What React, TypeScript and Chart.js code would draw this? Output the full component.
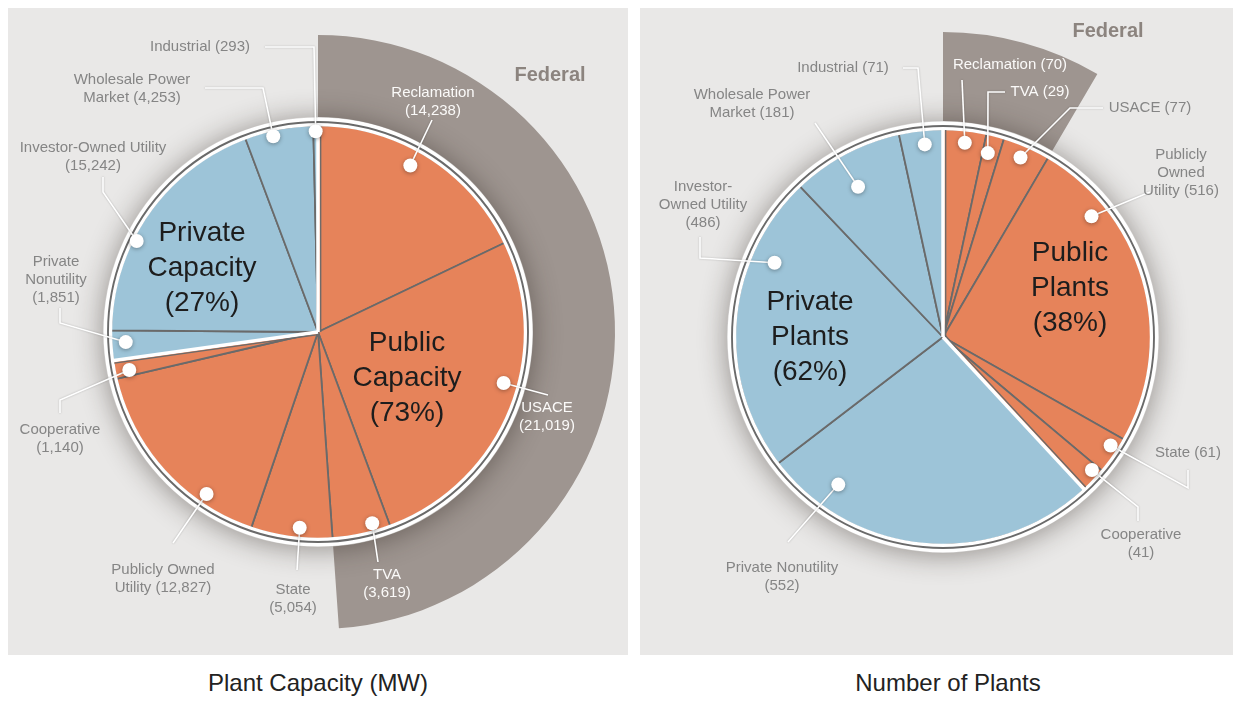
import React, { useEffect, useRef } from "react";
import { Chart, registerables } from "chart.js";
Chart.register(...registerables);

// ---------------- data ----------------
const capacityCategories = [
  "Reclamation", "USACE", "TVA", "State", "Publicly Owned Utility",
  "Cooperative", "Private Nonutility", "Investor-Owned Utility",
  "Wholesale Power Market", "Industrial",
];
const capacityValues = [14238, 21019, 3619, 5054, 12827, 1140, 1851, 15242, 4253, 293];
const capacityGroups = ["public", "public", "public", "public", "public", "public", "private", "private", "private", "private"];
const capacityFederal = [true, true, true, false, false, false, false, false, false, false];
const capacityLabelLines = [
  ["Reclamation", "(14,238)"],
  ["USACE", "(21,019)"],
  ["TVA", "(3,619)"],
  ["State", "(5,054)"],
  ["Publicly Owned", "Utility (12,827)"],
  ["Cooperative", "(1,140)"],
  ["Private", "Nonutility", "(1,851)"],
  ["Investor-Owned Utility", "(15,242)"],
  ["Wholesale Power", "Market (4,253)"],
  ["Industrial (293)"],
];

const plantCategories = [
  "Reclamation", "TVA", "USACE", "Publicly Owned Utility", "State",
  "Cooperative", "Private Nonutility", "Investor-Owned Utility",
  "Wholesale Power Market", "Industrial",
];
const plantValues = [70, 29, 77, 516, 61, 41, 552, 486, 181, 71];
const plantGroups = ["public", "public", "public", "public", "public", "public", "private", "private", "private", "private"];
const plantFederal = [true, true, true, false, false, false, false, false, false, false];
const plantLabelLines = [
  ["Reclamation (70)"],
  ["TVA (29)"],
  ["USACE (77)"],
  ["Publicly", "Owned", "Utility (516)"],
  ["State (61)"],
  ["Cooperative", "(41)"],
  ["Private Nonutility", "(552)"],
  ["Investor-", "Owned Utility", "(486)"],
  ["Wholesale Power", "Market (181)"],
  ["Industrial (71)"],
];

const capacityTitle = "Plant Capacity (MW)";
const plantTitle = "Number of Plants";
const federalText = "Federal";

// ---------------- styles / layout ----------------
const PUBLIC_COLOR = "#E6835A";
const PRIVATE_COLOR = "#9DC4D8";
const FEDERAL_COLOR = "#9E9590";
const LINE_COLOR = "#6a6a6a";
const PANEL_BG = "#E9E8E7";
const LABEL_GREY = "#858585";
const WHITE_TEXT = "#FBFAF9";
const FONT = "'Liberation Sans', Arial, Helvetica, sans-serif";

const capacityLayout = {
  canvasLeft: -40, canvasTop: -26, size: 700,
  fedOuter: 297, ringOuter: 215, pieRadius: 207,
  federalPos: [232, -257],
  groupTextPos: { private: [-116, -99], public: [89, 11] },
  groupWords: { private: ["Private", "Capacity"], public: ["Public", "Capacity"] },
  labels: [
    { dot: [0.45, 0.92], text: [115, -239], white: true, path: [[114, -212]] },
    { dot: [0.43, 0.93], text: [229, 76], white: true, path: [[230, 63]] },
    { dot: [0.28, 0.96], text: [69, 243], white: true, path: [[60, 230]] },
    { dot: [0.41, 0.95], text: [-25, 258], white: false, path: [[-21, 238]] },
    { dot: [0.27, 0.95], text: [-155, 238], white: false, path: [[-145, 211]] },
    { dot: [0.33, 0.93], text: [-258, 98], white: false, path: [[-258, 68], [-258, 81]] },
    { dot: [0.59, 0.93], text: [-262, -70], white: false, path: [[-258, -9], [-258, -24]] },
    { dot: [0.38, 0.98], text: [-225, -184], white: false, path: [[-215, -140], [-215, -155]] },
    { dot: [0.4, 0.97], text: [-186, -252], white: false, path: [[-55, -244], [-113, -244]] },
    { dot: [0.5, 0.97], text: [-118, -285], white: false, path: [[-4, -285], [-53, -285]] },
  ],
};

const plantLayout = {
  canvasLeft: -47, canvasTop: -21, size: 700,
  fedOuter: 305, ringOuter: 216, pieRadius: 208,
  federalPos: [165, -306],
  groupTextPos: { private: [-133, -35], public: [127, -84] },
  groupWords: { private: ["Private", "Plants"], public: ["Public", "Plants"] },
  labels: [
    { dot: [0.53, 0.94], text: [67, -272], white: true, path: [[19, -257]] },
    { dot: [0.32, 0.91], text: [97, -245], white: true, path: [[45, -245], [62, -245]] },
    { dot: [0.47, 0.94], text: [207, -229], white: false, path: [[127, -229], [160, -229]] },
    { dot: [0.23, 0.92], text: [238, -182], white: false, path: [[207, -145]] },
    { dot: [0.32, 0.96], text: [245, 116], white: false, path: [[245, 151], [245, 133]] },
    { dot: [0.24, 0.96], text: [198, 198], white: false, path: [[195, 170], [195, 184]] },
    { dot: [0.82, 0.87], text: [-161, 231], white: false, path: [[-155, 205]] },
    { dot: [0.73, 0.885], text: [-240, -150], white: false, path: [[-243, -79], [-243, -100]] },
    { dot: [0.45, 0.83], text: [-191, -242], white: false, path: [[-128, -214]] },
    { dot: [0.56, 0.93], text: [-100, -269], white: false, path: [[-25, -269], [-40, -269]] },
  ],
};

type PanelProps = {
  categories: string[];
  values: number[];
  groups: string[];
  federal: boolean[];
  labelLines: string[][];
  layout: any;
};

function DonutPanel({ categories, values, groups, federal, labelLines, layout }: PanelProps) {
  const ref = useRef<HTMLCanvasElement>(null);

  useEffect(() => {
    if (!ref.current) return;
    const total = values.reduce((a, b) => a + b, 0);
    const fedSum = values.reduce((a, v, i) => a + (federal[i] ? v : 0), 0);
    const publicSum = values.reduce((a, v, i) => a + (groups[i] === "public" ? v : 0), 0);
    const pct = {
      public: Math.round((publicSum / total) * 100),
      private: Math.round(((total - publicSum) / total) * 100),
    };
    const colors = groups.map((g) => (g === "public" ? PUBLIC_COLOR : PRIVATE_COLOR));

    const overlay = {
      id: "overlay",
      afterDatasetsDraw(chart: any) {
        const ctx: CanvasRenderingContext2D = chart.ctx;
        const arcs = chart.getDatasetMeta(2).data as any[];
        const ring = chart.getDatasetMeta(1).data[0] as any;
        const cx = arcs[0].x;
        const cy = arcs[0].y;
        const Rp = arcs[0].outerRadius;
        const Rr = ring.outerRadius;

        // soft drop shadow outside the pie
        ctx.save();
        ctx.beginPath();
        ctx.rect(0, 0, chart.width, chart.height);
        ctx.arc(cx, cy, Rr - 0.5, 0, Math.PI * 2);
        ctx.clip("evenodd");
        ctx.shadowColor = "rgba(40,30,25,0.45)";
        ctx.shadowBlur = 28;
        ctx.shadowOffsetX = 4000;
        ctx.shadowOffsetY = 2;
        ctx.fillStyle = "#000";
        ctx.beginPath();
        ctx.arc(cx - 4000, cy, Rr, 0, Math.PI * 2);
        ctx.fill();
        ctx.restore();

        // rim lines
        ctx.save();
        ctx.lineWidth = 3;
        ctx.strokeStyle = "#ffffff";
        ctx.beginPath();
        ctx.arc(cx, cy, Rp + 0.3, 0, Math.PI * 2);
        ctx.stroke();
        ctx.lineWidth = 1.9;
        ctx.strokeStyle = LINE_COLOR;
        ctx.beginPath();
        ctx.arc(cx, cy, Rp + 3, 0, Math.PI * 2);
        ctx.stroke();
        ctx.restore();

        // group boundaries (white separators)
        const n = arcs.length;
        ctx.save();
        for (let i = 0; i < n; i++) {
          const j = (i + 1) % n;
          if (groups[i] === groups[j]) continue;
          const th = arcs[i].endAngle;
          const cos = Math.cos(th), sin = Math.sin(th);
          ctx.strokeStyle = "#ffffff";
          ctx.lineWidth = 3.5;
          ctx.beginPath();
          ctx.moveTo(cx, cy);
          ctx.lineTo(cx + cos * (Rp + 1), cy + sin * (Rp + 1));
          ctx.stroke();
          const sgn = groups[j] === "public" ? 1 : -1;
          const ox = -sin * 2.7 * sgn, oy = cos * 2.7 * sgn;
          ctx.strokeStyle = LINE_COLOR;
          ctx.lineWidth = 1.3;
          ctx.beginPath();
          ctx.moveTo(cx + ox, cy + oy);
          ctx.lineTo(cx + ox + cos * (Rp - 1), cy + oy + sin * (Rp - 1));
          ctx.stroke();
        }
        ctx.restore();

        // leader lines and dots
        const dots = layout.labels.map((lb: any, i: number) => {
          const a = arcs[i];
          const th = a.startAngle + (a.endAngle - a.startAngle) * lb.dot[0];
          const r = Rp * lb.dot[1];
          return [cx + Math.cos(th) * r, cy + Math.sin(th) * r];
        });
        ctx.save();
        ctx.shadowColor = "rgba(0,0,0,0.25)";
        ctx.shadowBlur = 2;
        ctx.strokeStyle = "#ffffff";
        ctx.lineWidth = 1.6;
        ctx.lineJoin = "miter";
        layout.labels.forEach((lb: any, i: number) => {
          ctx.beginPath();
          ctx.moveTo(dots[i][0], dots[i][1]);
          lb.path.forEach((p: number[]) => ctx.lineTo(cx + p[0], cy + p[1]));
          ctx.stroke();
        });
        ctx.restore();
        ctx.save();
        ctx.shadowColor = "rgba(0,0,0,0.35)";
        ctx.shadowBlur = 4;
        ctx.shadowOffsetY = 1;
        ctx.fillStyle = "#ffffff";
        dots.forEach((d: number[]) => {
          ctx.beginPath();
          ctx.arc(d[0], d[1], 7, 0, Math.PI * 2);
          ctx.fill();
        });
        ctx.restore();

        // category labels
        ctx.save();
        ctx.font = `15px ${FONT}`;
        ctx.textAlign = "center";
        ctx.textBaseline = "middle";
        layout.labels.forEach((lb: any, i: number) => {
          ctx.fillStyle = lb.white ? WHITE_TEXT : LABEL_GREY;
          labelLines[i].forEach((line, k) => {
            ctx.fillText(line, cx + lb.text[0], cy + lb.text[1] + k * 18);
          });
        });
        ctx.restore();

        // group labels
        ctx.save();
        ctx.font = `28px ${FONT}`;
        ctx.textAlign = "center";
        ctx.textBaseline = "middle";
        ctx.fillStyle = "#1d1d1d";
        (["private", "public"] as const).forEach((g) => {
          const pos = layout.groupTextPos[g];
          const lines = [...layout.groupWords[g], `(${pct[g]}%)`];
          lines.forEach((line: string, k: number) => {
            ctx.fillText(line, cx + pos[0], cy + pos[1] + k * 35);
          });
        });
        ctx.restore();

        // Federal label
        ctx.save();
        ctx.font = `bold 20px ${FONT}`;
        ctx.textAlign = "center";
        ctx.textBaseline = "middle";
        ctx.fillStyle = "#8C847F";
        ctx.fillText(federalText, cx + layout.federalPos[0], cy + layout.federalPos[1]);
        ctx.restore();
      },
    };

    const chart = new Chart(ref.current, {
      type: "doughnut",
      data: {
        labels: categories,
        datasets: [
          {
            label: "Federal",
            data: [fedSum, total - fedSum],
            backgroundColor: [FEDERAL_COLOR, "rgba(0,0,0,0)"],
            borderWidth: 0,
            weight: layout.fedOuter - layout.ringOuter,
          } as any,
          {
            label: "rim",
            data: [total],
            backgroundColor: ["#ffffff"],
            borderWidth: 0,
            weight: layout.ringOuter - layout.pieRadius,
          } as any,
          {
            label: "share",
            data: values,
            backgroundColor: colors,
            borderColor: LINE_COLOR,
            borderWidth: 1.8,
            weight: layout.pieRadius,
          } as any,
        ],
      },
      options: {
        responsive: false,
        animation: false,
        radius: layout.fedOuter,
        cutout: 0,
        events: [],
        layout: { padding: 0 },
        plugins: { legend: { display: false }, tooltip: { enabled: false } },
      } as any,
      plugins: [overlay],
    });
    return () => chart.destroy();
  }, []);

  return (
    <canvas
      ref={ref}
      width={layout.size}
      height={layout.size}
      style={{ position: "absolute", left: layout.canvasLeft, top: layout.canvasTop }}
    />
  );
}

export default function App() {
  const panelStyle: React.CSSProperties = {
    position: "absolute",
    top: 0,
    height: 647,
    background: PANEL_BG,
    overflow: "hidden",
  };
  const titleStyle: React.CSSProperties = {
    position: "absolute",
    top: 662,
    fontSize: 24,
    lineHeight: "26px",
    textAlign: "center",
    color: "#222",
    fontFamily: FONT,
  };
  return (
    <div style={{ position: "relative", width: 1225, height: 690, fontFamily: FONT }}>
      <div style={{ ...panelStyle, left: 0, width: 620 }}>
        <DonutPanel
          categories={capacityCategories}
          values={capacityValues}
          groups={capacityGroups}
          federal={capacityFederal}
          labelLines={capacityLabelLines}
          layout={capacityLayout}
        />
      </div>
      <div style={{ ...panelStyle, left: 632, width: 593 }}>
        <DonutPanel
          categories={plantCategories}
          values={plantValues}
          groups={plantGroups}
          federal={plantFederal}
          labelLines={plantLabelLines}
          layout={plantLayout}
        />
      </div>
      <div style={{ ...titleStyle, left: 0, width: 620 }}>{capacityTitle}</div>
      <div style={{ ...titleStyle, left: 640, width: 600 }}>{plantTitle}</div>
    </div>
  );
}
